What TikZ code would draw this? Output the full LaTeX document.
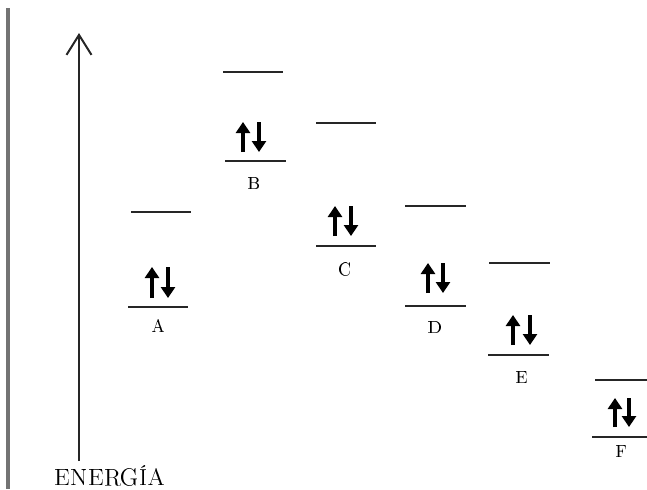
\documentclass[tikz,border=0pt]{standalone}
\usepackage[T1]{fontenc}
\usepackage{tikz}
\usetikzlibrary{positioning,arrows.meta}
\tikzset{
  levelline/.style={line width=1pt, black!85},
  spinarrow/.style={line width=1.6pt, -{Triangle[length=5.5pt, width=7pt]}},
  axisarrow/.style={line width=1pt, black!85, -{Straight Barb[length=10pt, width=12.5pt]}},
  levellabel/.style={font=\small, anchor=base, inner sep=0pt},
  axislabel/.style={font=\fontsize{12}{14}\selectfont, anchor=base, inner sep=0pt},
}

\begin{document}
\begin{tikzpicture}[x={(0.5pt,0)}, y={(0,-0.5pt)}]
  \useasboundingbox (0,0) rectangle (647,489);
  % barra lateral
  \draw[line width=1.6pt, black!55] (8,8) -- (8,489);
  % eje de energía
  \coordinate (axbot) at (79,461);
  \coordinate (axtop) at (79,33);
  \draw[axisarrow] (axbot) -- (axtop);
  \node[axislabel] (energia) at (110,485) {ENERGÍA};
  % A
  \draw[levelline] (131,212) -- (191,212);
  \draw[levelline] (128,307) -- (188,307);
  \draw[spinarrow] (152,298) -- (152,267);
  \draw[spinarrow] (168,267) -- (168,298);
  \node[levellabel] (labA) at (158,332) {A};
  % B
  \draw[levelline] (223,72) -- (283,72);
  \draw[levelline] (225,161) -- (286,161);
  \draw[spinarrow] (243,152) -- (243,122);
  \draw[spinarrow] (259,122) -- (259,152);
  \node[levellabel] (labB) at (254,189) {B};
  % C
  \draw[levelline] (316,123) -- (376,123);
  \draw[levelline] (316,246) -- (376,246);
  \draw[spinarrow] (335,236) -- (335,206);
  \draw[spinarrow] (351,206) -- (351,236);
  \node[levellabel] (labC) at (345,275) {C};
  % D
  \draw[levelline] (405,206) -- (466,206);
  \draw[levelline] (405,306) -- (466,306);
  \draw[spinarrow] (428,293) -- (428,263);
  \draw[spinarrow] (443,263) -- (443,293);
  \node[levellabel] (labD) at (436,333) {D};
  % E
  \draw[levelline] (489,263) -- (550,263);
  \draw[levelline] (488,355) -- (549,355);
  \draw[spinarrow] (513,345) -- (513,315);
  \draw[spinarrow] (530,315) -- (530,345);
  \node[levellabel] (labE) at (522,383) {E};
  % F
  \draw[levelline] (595,380) -- (647,380);
  \draw[levelline] (592,437) -- (647,437);
  \draw[spinarrow] (615,427) -- (615,398);
  \draw[spinarrow] (629,398) -- (629,427);
  \node[levellabel] (labF) at (622,457) {F};
\end{tikzpicture}
\end{document}
